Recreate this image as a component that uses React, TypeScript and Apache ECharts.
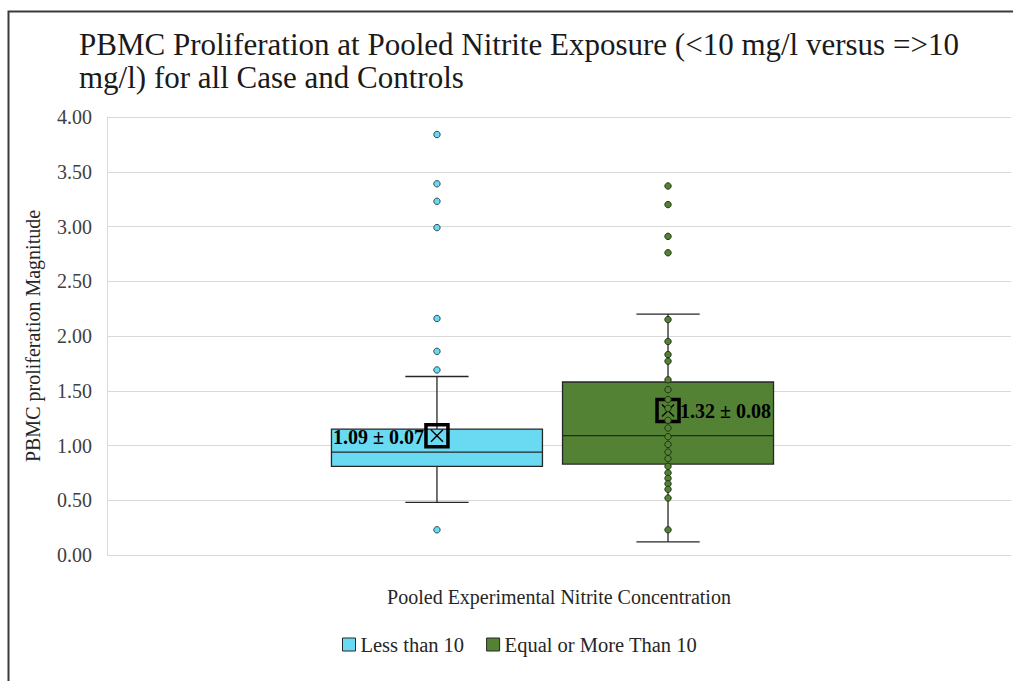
import React, { useEffect, useRef } from 'react';
import * as echarts from 'echarts';

const categories = ['Pooled'];
const seriesNames = ['Less than 10', 'Equal or More Than 10'];
const titleLines = [
  'PBMC Proliferation at Pooled Nitrite Exposure (<10 mg/l versus =>10',
  'mg/l) for all Case and Controls',
];
const xAxisName = 'Pooled Experimental Nitrite Concentration';
const yAxisName = 'PBMC proliferation Magnitude';
const yTicks = { min: 0, max: 4, interval: 0.5 };

// [lower whisker, Q1, median, Q3, upper whisker]
const lessBox = [0.48, 0.81, 0.94, 1.15, 1.63];
const moreBox = [0.12, 0.83, 1.09, 1.58, 2.2];
const lessMean = 1.09;
const lessSE = 0.07;
const moreMean = 1.32;
const moreSE = 0.08;
// plotted points (outliers / inner points)
const lessPoints = [3.84, 3.39, 3.23, 2.99, 2.16, 1.86, 1.69, 0.23];
const morePoints = [
  3.37, 3.2, 2.91, 2.76, 2.15, 1.95, 1.83, 1.77, 1.6, 1.51, 1.42, 1.34, 1.23, 1.16,
  1.08, 1.01, 0.94, 0.88, 0.81, 0.75, 0.7, 0.65, 0.6, 0.52, 0.23,
];

const CYAN = '#69DAF1';
const GREEN = '#548235';
const FONT = 'Liberation Serif';

// layout within the category band
const OFFSETS = [-0.135, 0.1206];
const BOX_W = 0.2334;
const CAP_W = 0.07;

function boxRender(offset: number, mean: number, se: number, side: 'left' | 'right') {
  return (params: any, api: any) => {
    const cat = api.value(0);
    const band = api.size([1, 0])[0];
    const base = api.coord([cat, 0]);
    const cx = base[0] + offset * band;
    const w = BOX_W * band;
    const cap = CAP_W * band;
    const y = (i: number) => api.coord([cat, api.value(i)])[1];
    const yMin = y(1), yQ1 = y(2), yMed = y(3), yQ3 = y(4), yMax = y(5);
    const my = api.coord([cat, mean])[1];
    const fill = api.visual('color');
    const stroke = '#262626';
    const lw = 1.3;
    const half = 11;
    const labelText = `${mean.toFixed(2)} ± ${se.toFixed(2)}`;
    return {
      type: 'group',
      children: [
        { type: 'line', shape: { x1: cx, y1: yMax, x2: cx, y2: yQ3 }, style: { stroke, lineWidth: lw } },
        { type: 'line', shape: { x1: cx, y1: yQ1, x2: cx, y2: yMin }, style: { stroke, lineWidth: lw } },
        { type: 'line', shape: { x1: cx - cap / 2, y1: yMax, x2: cx + cap / 2, y2: yMax }, style: { stroke, lineWidth: lw } },
        { type: 'line', shape: { x1: cx - cap / 2, y1: yMin, x2: cx + cap / 2, y2: yMin }, style: { stroke, lineWidth: lw } },
        {
          type: 'rect',
          shape: { x: cx - w / 2, y: yQ3, width: w, height: yQ1 - yQ3 },
          style: { fill, stroke, lineWidth: lw },
        },
        { type: 'line', shape: { x1: cx - w / 2, y1: yMed, x2: cx + w / 2, y2: yMed }, style: { stroke, lineWidth: lw } },
        {
          type: 'rect',
          z2: 5,
          shape: { x: cx - half, y: my - half, width: half * 2, height: half * 2 },
          style: { fill: 'none', stroke: '#000', lineWidth: 3.5 },
        },
        { type: 'line', z2: 5, shape: { x1: cx - 6, y1: my - 6, x2: cx + 6, y2: my + 6 }, style: { stroke: '#000', lineWidth: 1.4 } },
        { type: 'line', z2: 5, shape: { x1: cx + 6, y1: my - 6, x2: cx - 6, y2: my + 6 }, style: { stroke: '#000', lineWidth: 1.4 } },
        {
          type: 'text',
          z2: 6,
          style: {
            x: side === 'left' ? cx - half - 2 : cx + half + 1,
            y: my + 1,
            text: labelText,
            align: side === 'left' ? 'right' : 'left',
            verticalAlign: 'middle',
            fill: '#000',
            fontFamily: FONT,
            fontSize: 20,
            fontWeight: 'bold',
          },
        },
      ],
    };
  };
}

function pointRender(offset: number, stroke: string) {
  return (params: any, api: any) => {
    const cat = api.value(0);
    const band = api.size([1, 0])[0];
    const p = api.coord([cat, api.value(1)]);
    return {
      type: 'circle',
      shape: { cx: p[0] + offset * band, cy: p[1], r: 3.2 },
      style: { fill: api.visual('color'), stroke, lineWidth: 1 },
    };
  };
}

export default function App() {
  const ref = useRef<HTMLDivElement>(null);
  useEffect(() => {
    if (!ref.current) return;
    const chart = echarts.init(ref.current, null, { renderer: 'svg' });
    const option: any = {
      animation: false,
      backgroundColor: '#fff',
      textStyle: { fontFamily: FONT },
      title: {
        text: titleLines.join('\n'),
        left: 79,
        top: 28,
        padding: 0,
        textStyle: { fontFamily: FONT, fontSize: 31, fontWeight: 'normal', color: '#1a1a1a', lineHeight: 33 },
      },
      legend: {
        data: seriesNames.map((n) => ({ name: n, icon: 'rect' })),
        left: 337,
        top: 629,
        itemWidth: 13,
        itemHeight: 13,
        itemGap: 22,
        selectedMode: false,
        itemStyle: { borderColor: '#262626', borderWidth: 1 },
        textStyle: { fontFamily: FONT, fontSize: 20.5, color: '#262626' },
      },
      grid: { left: 107, right: 2, top: 117, bottom: 126 },
      xAxis: {
        type: 'category',
        data: categories,
        name: xAxisName,
        nameLocation: 'middle',
        nameGap: 32,
        nameTextStyle: { fontFamily: FONT, fontSize: 20, color: '#262626' },
        axisLabel: { show: false },
        axisTick: { show: false },
        axisLine: { show: false },
        splitLine: { show: false },
      },
      yAxis: {
        type: 'value',
        min: yTicks.min,
        max: yTicks.max,
        interval: yTicks.interval,
        name: yAxisName,
        nameLocation: 'middle',
        nameGap: 64,
        nameTextStyle: { fontFamily: FONT, fontSize: 20, color: '#262626' },
        axisLabel: {
          formatter: (v: number) => v.toFixed(2),
          fontFamily: FONT,
          fontSize: 20,
          color: '#404040',
          margin: 15,
        },
        axisLine: { show: true, lineStyle: { color: '#d9d9d9', width: 1 } },
        axisTick: { show: false },
        splitLine: { show: true, lineStyle: { color: '#d9d9d9', width: 1 } },
      },
      graphic: [
        {
          type: 'polyline',
          shape: { points: [[8.5, 700], [8.5, 11.5], [1020, 11.5]] },
          style: { fill: 'none', stroke: '#3a3a3a', lineWidth: 2 },
          silent: true,
        },
      ],
      series: [
        {
          name: seriesNames[0],
          type: 'custom',
          itemStyle: { color: CYAN, borderColor: '#262626' },
          encode: { x: 0, y: [1, 2, 3, 4, 5] },
          data: [[0, ...lessBox]],
          renderItem: boxRender(OFFSETS[0], lessMean, lessSE, 'left'),
          z: 2,
        },
        {
          name: seriesNames[1],
          type: 'custom',
          itemStyle: { color: GREEN, borderColor: '#262626' },
          encode: { x: 0, y: [1, 2, 3, 4, 5] },
          data: [[0, ...moreBox]],
          renderItem: boxRender(OFFSETS[1], moreMean, moreSE, 'right'),
          z: 2,
        },
        {
          name: seriesNames[0],
          type: 'custom',
          itemStyle: { color: CYAN },
          encode: { x: 0, y: 1 },
          data: lessPoints.map((v) => [0, v]),
          renderItem: pointRender(OFFSETS[0], '#2b4a52'),
          z: 3,
        },
        {
          name: seriesNames[1],
          type: 'custom',
          itemStyle: { color: GREEN },
          encode: { x: 0, y: 1 },
          data: morePoints.map((v) => [0, v]),
          renderItem: pointRender(OFFSETS[1], '#203314'),
          z: 3,
        },
      ],
    };
    chart.setOption(option);
    return () => chart.dispose();
  }, []);
  return (
    <div
      ref={ref}
      style={{ position: 'fixed', left: 0, top: 0, width: 1013, height: 681 }}
    />
  );
}
